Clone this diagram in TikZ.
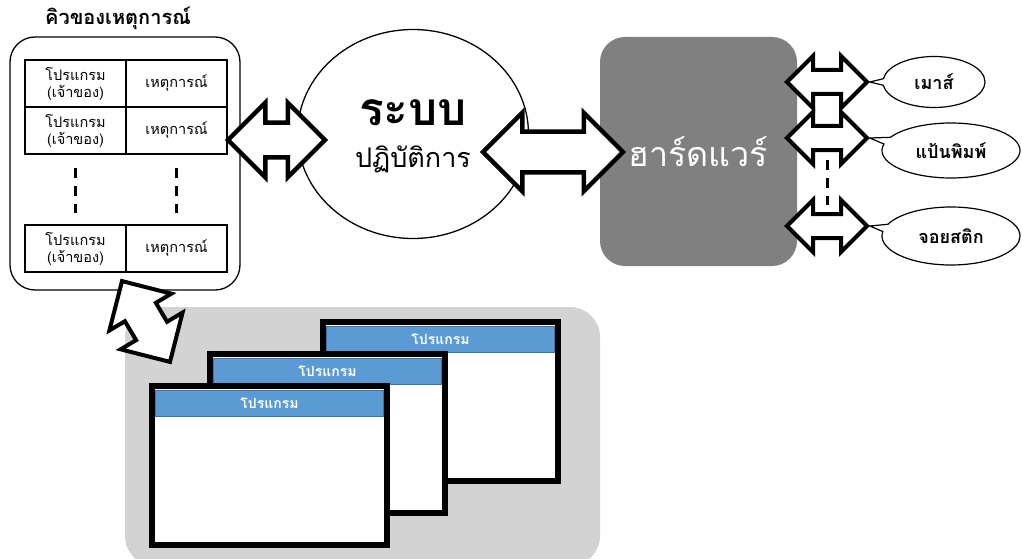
\documentclass[tikz,border=0pt]{standalone}
\usepackage{fontspec}
\setmainfont[Script=Thai]{Loma}
\usetikzlibrary{positioning, shapes.arrows, shapes.geometric, shapes.callouts}
\definecolor{grisclaro}{RGB}{211,211,211}
\definecolor{grisoscuro}{RGB}{128,128,128}
\definecolor{azulbarra}{RGB}{91,155,213}
\definecolor{azulborde}{RGB}{65,113,156}
\tikzset{
	cell/.style={draw, line width=1.3pt, minimum width=101pt, minimum height=47pt, inner sep=0pt, outer sep=0pt, align=center, font=\fontsize{14.5}{17}\selectfont},
	bigarrow/.style={double arrow, draw, fill=white, line width=4.5pt, double arrow tip angle=90, double arrow head indent=0pt, inner xsep=0pt},
	devarrow/.style={bigarrow, line width=4pt, minimum height=80pt, inner ysep=10pt, double arrow head extend=14pt},
	device/.style={ellipse callout, draw, line width=1.2pt, fill=white, font=\fontsize{18}{21}\selectfont\bfseries},
	window/.style={draw, line width=6pt, fill=white, minimum width=235pt, minimum height=159pt, outer sep=0pt},
	titlebar/.style={draw=azulborde, fill=azulbarra, line width=1pt, minimum width=228pt, minimum height=26pt, inner sep=0pt, text=white, font=\fontsize{14}{16}\selectfont\bfseries},
	etc/.style={line width=3pt, dash pattern=on 10pt off 8pt}
}
\begin{document}
\begin{tikzpicture}[x=1pt, y=-1pt]
	\useasboundingbox (0,0) rectangle (1022,559);
	%Programas
	\fill[grisclaro, rounded corners=30pt] (125,307) rectangle (600,566);
	\foreach \n/\cx/\cy in {3/440.5/401, 2/327.5/433.5, 1/269.5/465.5}{
		\node[window] (w\n) at (\cx,\cy) {};
		\node[titlebar, below=4pt of w\n.north] (t\n) {โปรแกรม};
	}
	
	%Cola de eventos
	\node[draw, line width=1.3pt, rounded corners=25pt, minimum width=230pt, minimum height=253pt] (queue) at (125,163.5) {};
	\node[font=\fontsize{20}{23}\selectfont\bfseries] (qtitle) at (118,18) {คิวของเหตุการณ์};
	\node[cell] (p1) at (75.5,83.5) {โปรแกรม\\(เจ้าของ)};
	\node[cell, right=0pt of p1] (e1) {เหตุการณ์};
	\node[cell, below=0pt of p1] (p2) {โปรแกรม\\(เจ้าของ)};
	\node[cell, right=0pt of p2] (e2) {เหตุการณ์};
	\node[cell] (p3) at (75.5,248.5) {โปรแกรม\\(เจ้าของ)};
	\node[cell, right=0pt of p3] (e3) {เหตุการณ์};
	\draw[etc] ([yshift=-14pt]p2.south) -- ([yshift=12pt]p3.north);
	\draw[etc] ([yshift=-14pt]e2.south) -- ([yshift=12pt]e3.north);
	
	%Sistema operativo y hardware
	\node[draw, ellipse, line width=1.3pt, minimum width=231pt, minimum height=209pt] (os) at (413,134) {};
	\node[font=\fontsize{46}{50}\selectfont\bfseries] (os1) at (413,113) {ระบบ};
	\node[font=\fontsize{27}{30}\selectfont] (os2) at (413,159) {ปฏิบัติการ};
	\node[fill=grisoscuro, rounded corners=25pt, minimum width=197pt, minimum height=229pt, text=white, font=\fontsize{34}{38}\selectfont] (hw) at (698.5,151.5) {ฮาร์ดแวร์};
	
	%Flechas
	\node[bigarrow, minimum height=97pt, inner ysep=15pt, double arrow head extend=20pt] (a1) at (276.5,140) {};
	\node[bigarrow, minimum height=140pt, inner ysep=18pt, double arrow head extend=19pt] (a2) at (553,152) {};
	\node[bigarrow, line width=4pt, minimum height=94pt, inner ysep=16pt, double arrow head extend=18pt, rotate=-59.3] (a3) at (146,321.5) {};
	
	%Dispositivos
	\foreach \n/\y in {1/82, 2/138, 3/226}
		\node[devarrow] (d\n) at (827,\y) {};
	\draw[etc] ([yshift=-22pt]d2.center) -- ([yshift=21pt]d3.center);
	\node[device, minimum width=102pt, minimum height=51pt, callout absolute pointer={(d1.east)}] (mouse) at (934,82) {เมาส์};
	\node[device, minimum width=138pt, minimum height=55pt, callout absolute pointer={(d2.east)}] (kbd) at (951,150.5) {แป้นพิมพ์};
	\node[device, minimum width=138pt, minimum height=58pt, callout absolute pointer={(d3.east)}] (joy) at (951,236) {จอยสติก};
\end{tikzpicture}
\end{document}
